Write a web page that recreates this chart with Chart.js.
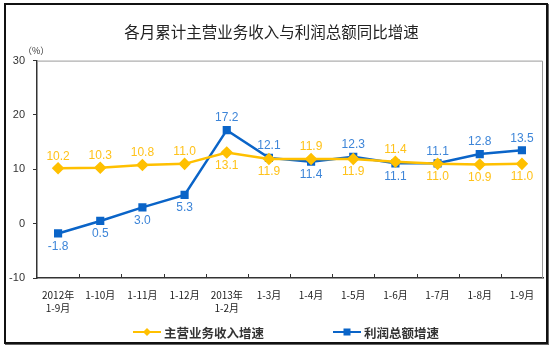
<!DOCTYPE html>
<html>
<head>
<meta charset="utf-8">
<script src="https://cdn.jsdelivr.net/npm/chart.js@4/dist/chart.umd.min.js"></script>
<style>
  body { margin: 0; background: #fff; }
  #wrap { position: relative; width: 550px; height: 349px; }
  #frame { position: absolute; left: 4px; top: 3px; width: 540px; height: 337px; border: 2px solid #111; box-shadow: 1px 1px 0 #666; pointer-events: none; }
</style>
</head>
<body>
<div id="wrap">
  <canvas id="chart" width="550" height="349"></canvas>
  <div id="frame"></div>
</div>
<script>
// Data
const categories = [["2012年", "1-9月"], "1-10月", "1-11月", "1-12月", ["2013年", "1-2月"],
  "1-3月", "1-4月", "1-5月", "1-6月", "1-7月", "1-8月", "1-9月"];
const revenueGrowth = [10.2, 10.3, 10.8, 11.0, 13.1, 11.9, 11.9, 11.9, 11.4, 11.0, 10.9, 11.0];
const profitGrowth = [-1.8, 0.5, 3.0, 5.3, 17.2, 12.1, 11.4, 12.3, 11.1, 11.1, 12.8, 13.5];
// which series label sits above the point: true = revenue above, false = profit above
const revenueOnTop = [true, true, true, true, false, false, true, false, true, false, false, false];
const yTicks = [-10, 0, 10, 20, 30];

const YELLOW = "#FFC000";
const BLUE = "#0A64C8";
const CJK = "'Noto Sans CJK SC', 'Liberation Sans', sans-serif";

// labels, plot frame, inner x ticks, unit text and legend
const decorPlugin = {
  id: "decor",
  afterDatasetsDraw(chart) {
    const { ctx, chartArea: a, scales } = chart;
    const x = scales.x, y = scales.y;
    ctx.save();

    // top and right frame of the plot
    ctx.strokeStyle = "#9a9a9a";
    ctx.lineWidth = 1;
    ctx.beginPath();
    ctx.moveTo(a.left, a.top + 0.5);
    ctx.lineTo(a.right - 0.5, a.top + 0.5);
    ctx.lineTo(a.right - 0.5, a.bottom);
    ctx.stroke();

    // small ticks between categories, pointing into the plot
    ctx.strokeStyle = "#333";
    const step = x.getPixelForValue(1) - x.getPixelForValue(0);
    for (let i = 1; i < categories.length; i++) {
      const px = Math.round(x.getPixelForValue(i) - step / 2) + 0.5;
      ctx.beginPath();
      ctx.moveTo(px, a.bottom);
      ctx.lineTo(px, a.bottom - 4);
      ctx.stroke();
    }

    // unit
    ctx.fillStyle = "#333";
    ctx.font = "9px " + CJK;
    ctx.textAlign = "left";
    ctx.textBaseline = "middle";
    ctx.fillText("（%）", a.left - 14, a.top - 10);

    // value labels
    ctx.font = "12px 'Liberation Sans', Arial, sans-serif";
    ctx.textAlign = "center";
    for (let i = 0; i < categories.length; i++) {
      const px = x.getPixelForValue(i);
      const ry = y.getPixelForValue(revenueGrowth[i]);
      const py = y.getPixelForValue(profitGrowth[i]);
      ctx.fillStyle = "#FFC21A";
      ctx.fillText(revenueGrowth[i].toFixed(1), px, revenueOnTop[i] ? ry - 12 : ry + 13);
      ctx.fillStyle = "#3D85D8";
      ctx.fillText(profitGrowth[i].toFixed(1), px, revenueOnTop[i] ? py + 13 : py - 12);
    }

    // legend
    const items = [{ ds: chart.data.datasets[0], x0: 133 }, { ds: chart.data.datasets[1], x0: 333 }];
    const ly = 332;
    items.forEach(({ ds, x0 }) => {
      ctx.strokeStyle = ds.borderColor;
      ctx.lineWidth = 2;
      ctx.beginPath();
      ctx.moveTo(x0, ly);
      ctx.lineTo(x0 + 28, ly);
      ctx.stroke();
      ctx.fillStyle = ds.borderColor;
      const mx = x0 + 14;
      if (ds.pointStyle === "rectRot") {
        ctx.beginPath();
        ctx.moveTo(mx, ly - 4); ctx.lineTo(mx + 4, ly); ctx.lineTo(mx, ly + 4); ctx.lineTo(mx - 4, ly);
        ctx.closePath();
        ctx.fill();
      } else {
        ctx.fillRect(mx - 3.5, ly - 3.5, 7, 7);
      }
      ctx.fillStyle = "#333";
      ctx.font = "bold 12.5px " + CJK;
      ctx.textAlign = "left";
      ctx.fillText(ds.label, x0 + 31, ly + 1);
    });
    ctx.restore();
  }
};

new Chart(document.getElementById("chart").getContext("2d"), {
  type: "line",
  data: {
    labels: categories,
    datasets: [{
      label: "主营业务收入增速",
      data: revenueGrowth,
      borderColor: YELLOW,
      backgroundColor: YELLOW,
      borderWidth: 2.5,
      pointStyle: "rectRot",
      pointRadius: 4.5,
      tension: 0
    }, {
      label: "利润总额增速",
      data: profitGrowth,
      borderColor: BLUE,
      backgroundColor: BLUE,
      borderWidth: 2.5,
      pointStyle: "rect",
      pointRadius: 4,
      tension: 0
    }]
  },
  options: {
    responsive: false,
    animation: false,
    layout: { padding: { left: 0, right: 7, top: 0, bottom: 0 } },
    plugins: {
      legend: { display: false },
      tooltip: { enabled: false },
      title: {
        display: true,
        text: "各月累计主营业务收入与利润总额同比增速",
        color: "#222",
        font: { family: CJK, size: 15.5, weight: "normal" },
        padding: { top: 23, bottom: 19 }
      }
    },
    scales: {
      x: {
        offset: true,
        grid: { display: false },
        border: { display: true, color: "#333", width: 1.5 },
        ticks: {
          color: "#222",
          font: { family: CJK, size: 10, weight: "normal", lineHeight: 1.3 },
          padding: 3,
          maxRotation: 0,
          autoSkip: false
        },
        afterFit(scale) { scale.height = 71; }
      },
      y: {
        min: -10,
        max: 30,
        afterBuildTicks(scale) { scale.ticks = yTicks.map(v => ({ value: v })); },
        grid: { drawOnChartArea: false, tickLength: 4, color: "#333" },
        border: { display: true, color: "#333", width: 1.5 },
        ticks: {
          color: "#333",
          font: { family: "'Liberation Sans', Arial, sans-serif", size: 11 },
          padding: 8
        },
        afterFit(scale) { scale.width = 37; }
      }
    }
  },
  plugins: [decorPlugin]
});
</script>
</body>
</html>
